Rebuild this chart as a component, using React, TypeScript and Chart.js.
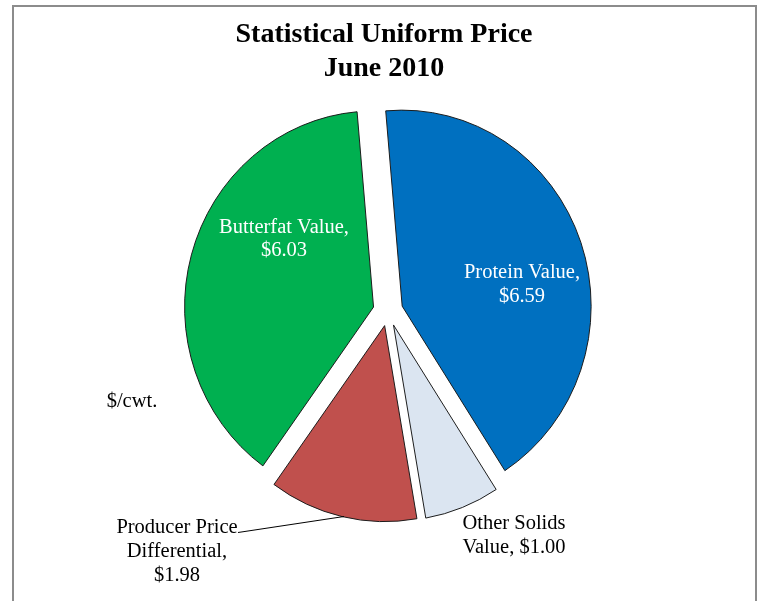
import React, { useEffect, useRef } from "react";
import { Chart, registerables } from "chart.js";

Chart.register(...registerables);

const categories = ["Protein Value", "Other Solids Value", "Producer Price Differential", "Butterfat Value"];
const values = [6.59, 1.0, 1.98, 6.03];
const colors = ["#0070C0", "#DBE5F1", "#C0504D", "#00B050"];
const titleLines = ["Statistical Uniform Price", "June 2010"];
const unitLabel = "$/cwt.";

const FONT = '"Liberation Serif", "Times New Roman", serif';
const EXPLODE = 15; // px each slice is pulled out
const SCALE_X = 0.964; // pie is slightly taller than wide

const explodePlugin = {
  id: "explodePlugin",
  beforeDatasetDraw(chart: any, args: any) {
    const ctx = chart.ctx as CanvasRenderingContext2D;
    const meta = args.meta;
    meta.data.forEach((el: any) => {
      const mid = (el.startAngle + el.endAngle) / 2;
      ctx.save();
      ctx.translate(Math.cos(mid) * EXPLODE, Math.sin(mid) * EXPLODE);
      ctx.translate(el.x, el.y);
      ctx.scale(SCALE_X, 1);
      ctx.translate(-el.x, -el.y);
      el.draw(ctx);
      ctx.restore();
    });
    return false;
  },
};

const labelPlugin = {
  id: "labelPlugin",
  afterDraw(chart: any) {
    const ctx = chart.ctx as CanvasRenderingContext2D;
    ctx.save();
    ctx.textAlign = "center";
    ctx.textBaseline = "alphabetic";
    ctx.fillStyle = "#000";
    ctx.font = `bold 28px ${FONT}`;
    ctx.fillText(titleLines[0], 384, 42);
    ctx.fillText(titleLines[1], 384, 76);

    ctx.font = `20.5px ${FONT}`;
    const fmt = (v: number) => "$" + v.toFixed(2);
    ctx.fillStyle = "#fff";
    ctx.fillText(categories[3] + ",", 284, 233);
    ctx.fillText(fmt(values[3]), 284, 256);
    ctx.fillText(categories[0] + ",", 522, 278);
    ctx.fillText(fmt(values[0]), 522, 302);
    ctx.fillStyle = "#000";
    ctx.fillText(unitLabel, 132, 407);
    ctx.fillText("Producer Price", 177, 533);
    ctx.fillText("Differential,", 177, 557);
    ctx.fillText(fmt(values[2]), 177, 581);
    ctx.fillText("Other Solids", 514, 529);
    ctx.fillText("Value, " + fmt(values[1]), 514, 553);
    ctx.strokeStyle = "#000";
    ctx.lineWidth = 1;
    ctx.beginPath();
    ctx.moveTo(238, 532.5);
    ctx.lineTo(344, 516.5);
    ctx.stroke();
    ctx.restore();
  },
};

export default function App() {
  const ref = useRef<HTMLCanvasElement | null>(null);
  useEffect(() => {
    if (!ref.current) return;
    const chart = new Chart(ref.current, {
      type: "pie",
      data: {
        labels: categories,
        datasets: [
          {
            data: values,
            backgroundColor: colors,
            borderColor: "#1a1a1a",
            borderWidth: 1,
          },
        ],
      },
      options: {
        animation: false,
        responsive: false,
        rotation: -5,
        radius: 196,
        layout: { padding: { left: 18, right: 0, top: 21, bottom: 0 } },
        plugins: { legend: { display: false }, tooltip: { enabled: false }, title: { display: false } },
      },
      plugins: [explodePlugin, labelPlugin],
    });
    return () => chart.destroy();
  }, []);
  return (
    <div style={{ position: "absolute", left: 0, top: 0, width: 758, height: 601, background: "#fff", overflow: "hidden" }}>
      <canvas ref={ref} width={758} height={601} style={{ position: "absolute", left: 0, top: 0 }} />
      <div
        style={{
          position: "absolute",
          left: 12,
          top: 5,
          width: 741,
          height: 620,
          border: "2px solid #8c8c8c",
          pointerEvents: "none",
        }}
      />
    </div>
  );
}
